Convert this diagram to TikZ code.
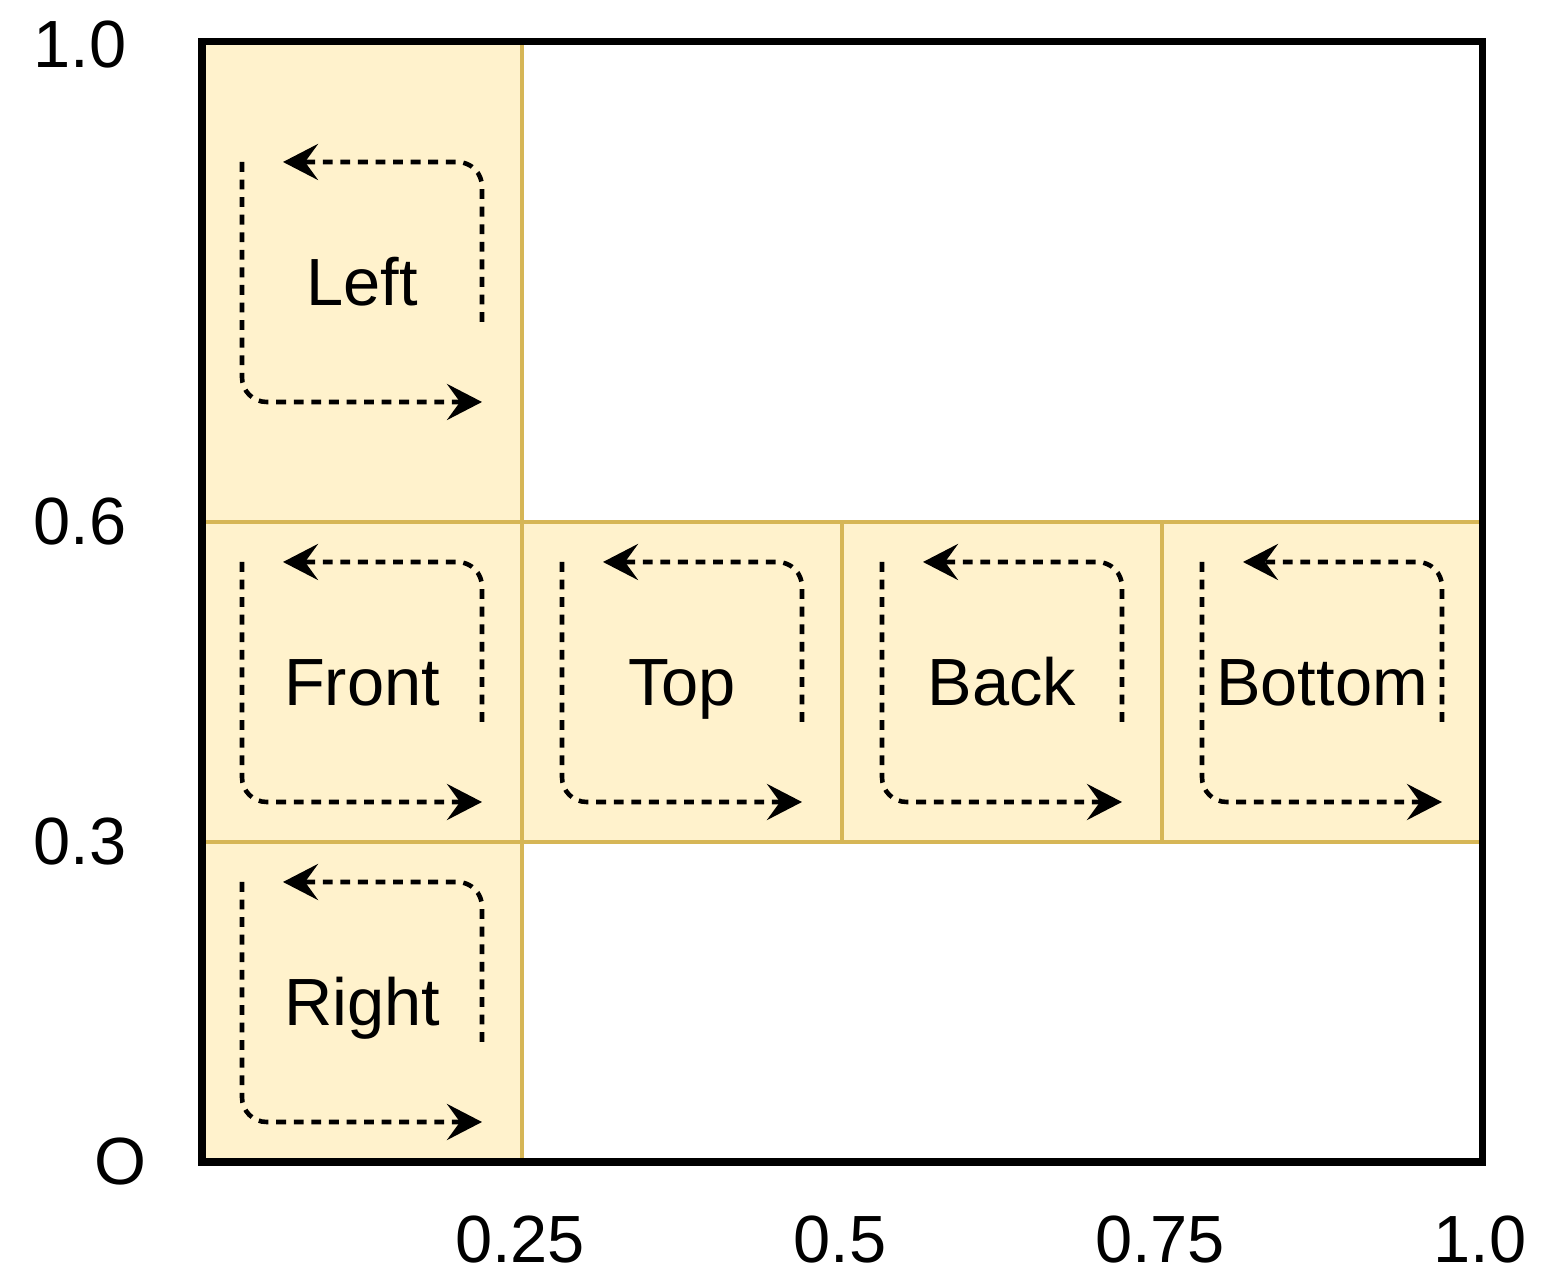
\documentclass[tikz,border=0pt]{standalone}
\usepackage{fontspec}
\setmainfont{Liberation Sans}
\usetikzlibrary{arrows.meta,positioning,calc}
\definecolor{facefill}{HTML}{FFF2CC}
\definecolor{faceline}{HTML}{D6B656}

\begin{document}
\begin{tikzpicture}[
  node distance=0mm and 0mm,
  face/.style={draw=faceline,line width=0.9pt,fill=facefill,minimum width=3.2cm,minimum height=3.2cm,inner sep=0pt,outer sep=0pt,text height=13.6pt,text depth=0pt,font=\fontsize{19}{23}\selectfont},
  tick/.style={inner sep=0pt,font=\fontsize{19}{23}\selectfont},
  turn/.style={-{Stealth[length=3.5mm,width=3.6mm,inset=1.3mm]},line width=1.3pt,dash pattern=on 2.8pt off 2.2pt,rounded corners=7pt}]
\useasboundingbox (0,0) rectangle (15.68,12.88);
% unfolded cube faces
\node[face,anchor=south west] (right) at (2.02,1.26) {Right};
\node[face,above=of right] (front) {Front};
\node[face,above=of front,minimum height=4.8cm] (left) {Left};
\node[face,right=of front] (top) {Top};
\node[face,right=of top] (back) {Back};
\node[face,right=of back] (bottom) {Bottom};
\draw[line width=2pt] (right.south west) rectangle (bottom.east |- left.north);
% turning arrows in each face
\foreach \f in {left,front,top,back,bottom,right} {
  \draw[turn] ($(\f.center)+(1.2,-0.4)$) |- ($(\f.center)+(-0.79,1.2)$);
  \draw[turn] ($(\f.center)+(-1.2,1.2)$) |- ($(\f.center)+(1.2,-1.2)$);
}
% axis values
\node[tick] (y10) at (0.80,12.43) {1.0};
\node[tick] (y06) at (0.80,7.66) {0.6};
\node[tick] (y03) at (0.80,4.46) {0.3};
\node[tick] (o) at (1.20,1.26) {O};
\node[tick] (x025) at (5.20,0.48) {0.25};
\node[tick] (x05) at (8.40,0.48) {0.5};
\node[tick] (x075) at (11.60,0.48) {0.75};
\node[tick] (x10) at (14.80,0.48) {1.0};
\end{tikzpicture}
\end{document}
